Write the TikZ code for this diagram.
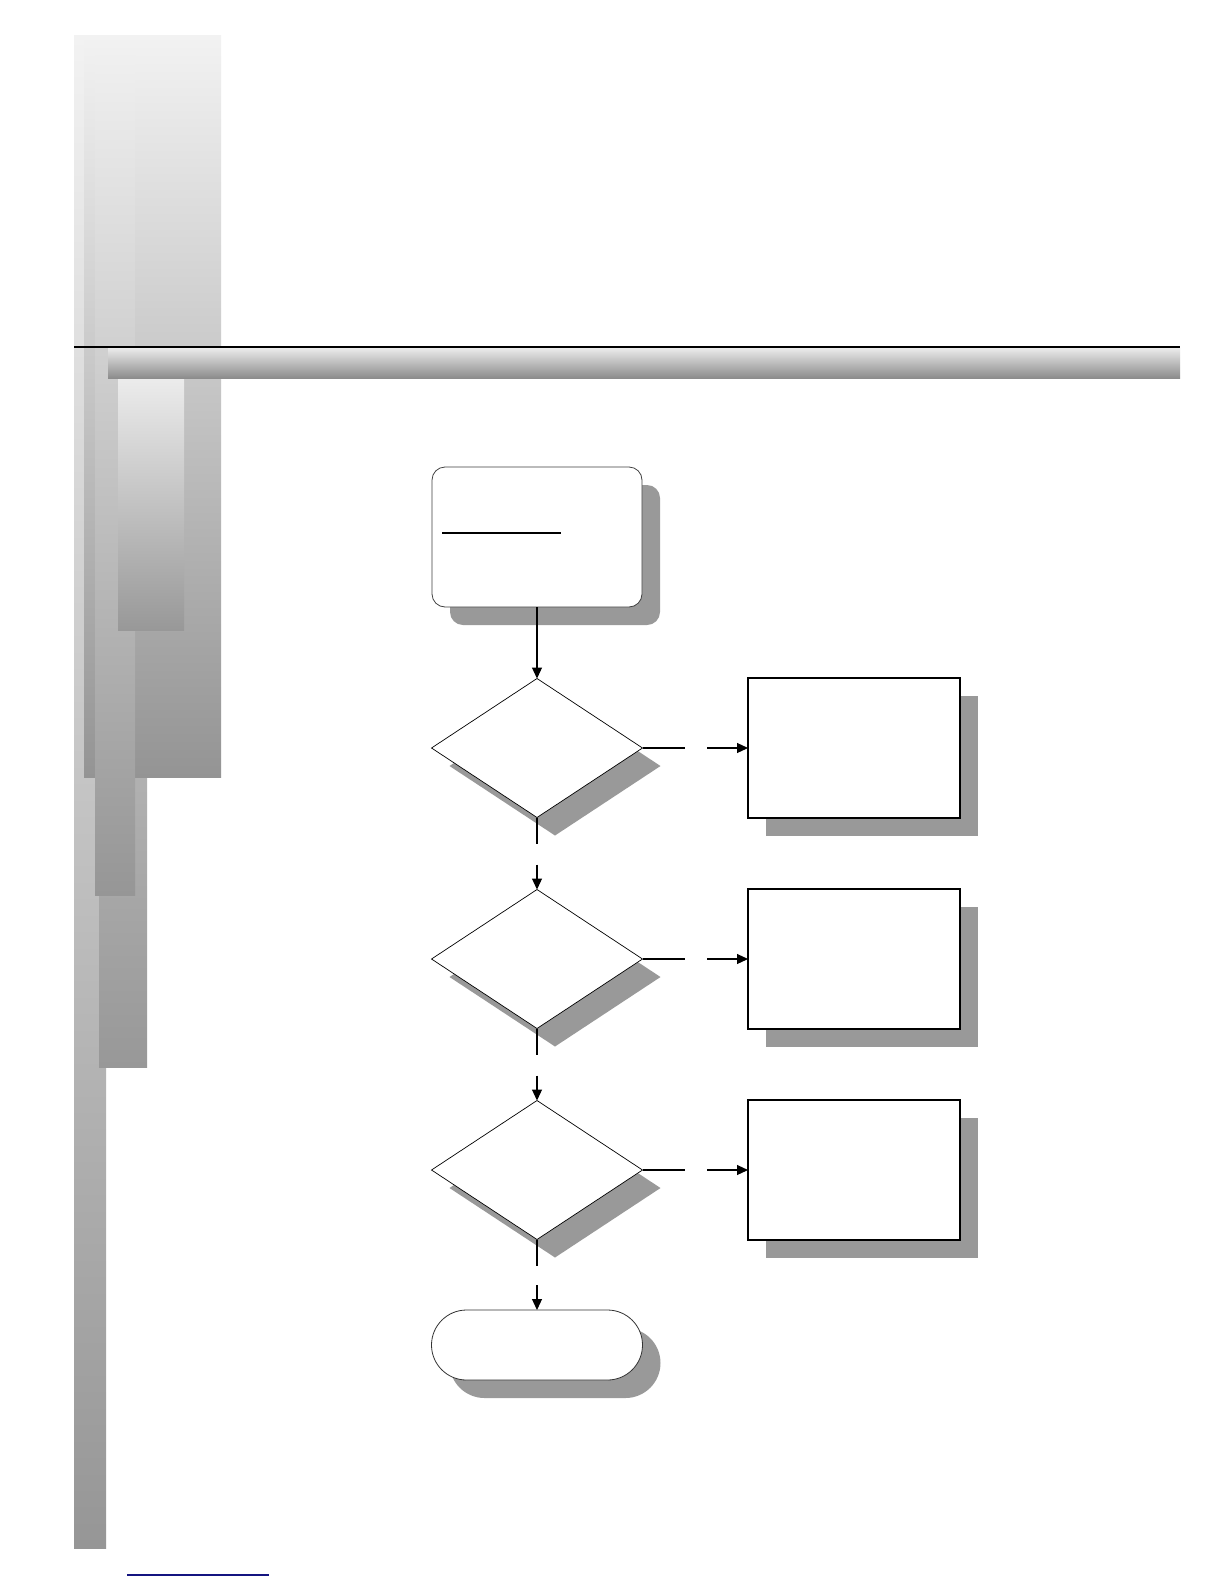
\documentclass[tikz,border=0pt]{standalone}
\usetikzlibrary{shapes.geometric,shadows,arrows.meta,calc}
\definecolor{shadowgray}{RGB}{153,153,153}
\definecolor{linkblue}{RGB}{20,20,128}
\definecolor{barlight}{RGB}{242,242,242}
\definecolor{bardark}{RGB}{148,148,148}
\begin{document}
\begin{tikzpicture}[x=1pt,y=-1pt,
  shad/.style={drop shadow={shadow xshift=18pt,shadow yshift=-18pt,fill=shadowgray,opacity=1}},
  procbox/.style={rectangle,draw=black,line width=1.5pt,fill=white,minimum width=212pt,minimum height=140pt,inner sep=0pt,outer sep=0pt,shad},
  decision/.style={diamond,draw=black,line width=0.7pt,fill=white,minimum width=211pt,minimum height=139pt,inner sep=0pt,outer sep=0pt,shad},
  startbox/.style={rectangle,rounded corners=13pt,draw=black!75,line width=0.8pt,fill=white,minimum width=210pt,minimum height=140pt,inner sep=0pt,outer sep=0pt,shad},
  endbox/.style={rectangle,rounded corners=35pt,draw=black!80,line width=0.8pt,fill=white,minimum width=211pt,minimum height=70pt,inner sep=0pt,outer sep=0pt,shad},
  flow/.style={line width=1.1pt,draw=black},
  flowarrow/.style={flow,-{Triangle[length=11pt,width=10pt]}},
  bar/.style={top color=barlight,bottom color=bardark,draw=none}
]
\path[use as bounding box,fill=white] (0,0) rectangle (1224,1584);

% left decorative bars
\shade[top color=barlight,bottom color={rgb,255:red,150;green,150;blue,150}] (74,36) rectangle (106,1548);
\shade[top color={rgb,255:red,240;green,240;blue,240},bottom color={rgb,255:red,152;green,152;blue,152}] (99,36) rectangle (147,1067);
\shade[bar] (84,36) rectangle (221,777);
\shade[top color={rgb,255:red,240;green,240;blue,240},bottom color={rgb,255:red,150;green,150;blue,150}] (95,50) rectangle (135,895);
\shade[top color={rgb,255:red,236;green,236;blue,236},bottom color={rgb,255:red,152;green,152;blue,152}] (118,378) rectangle (184,630);

% header bar and rule
\shade[top color={rgb,255:red,235;green,235;blue,235},bottom color={rgb,255:red,140;green,140;blue,140}] (108,348) rectangle (1180,378);
\draw[line width=1.8pt] (74,347) -- (1180,347);

% flowchart nodes
\node[startbox] (start) at (537,537) {};
\node[decision] (d1) at (537,748) {};
\node[decision] (d2) at (537,959) {};
\node[decision] (d3) at (537,1170) {};
\node[procbox] (b1) at (854,748) {};
\node[procbox] (b2) at (854,959) {};
\node[procbox] (b3) at (854,1170) {};
\node[endbox] (stop) at (537,1345) {};

% underline inside start box
\draw[line width=2pt] ($(start.north west)+(10,66)$) -- ++(119,0);

% connectors
\draw[flowarrow] (start.south) -- (d1.north);
\draw[flow] (d1.south) -- ++(0,26);
\draw[flowarrow] ($(d2.north)+(0,-25)$) -- (d2.north);
\draw[flow] (d2.south) -- ++(0,26);
\draw[flowarrow] ($(d3.north)+(0,-25)$) -- (d3.north);
\draw[flow] (d3.south) -- ++(0,26);
\draw[flowarrow] ($(stop.north)+(0,-25)$) -- (stop.north);

\draw[flow] (d1.east) -- ++(42,0);
\draw[flowarrow] ($(b1.west)+(-41,0)$) -- (b1.west);
\draw[flow] (d2.east) -- ++(42,0);
\draw[flowarrow] ($(b2.west)+(-41,0)$) -- (b2.west);
\draw[flow] (d3.east) -- ++(42,0);
\draw[flowarrow] ($(b3.west)+(-41,0)$) -- (b3.west);

% link underline at bottom
\draw[linkblue,line width=1.2pt] (127,1575) -- (269,1575);
\end{tikzpicture}
\end{document}
